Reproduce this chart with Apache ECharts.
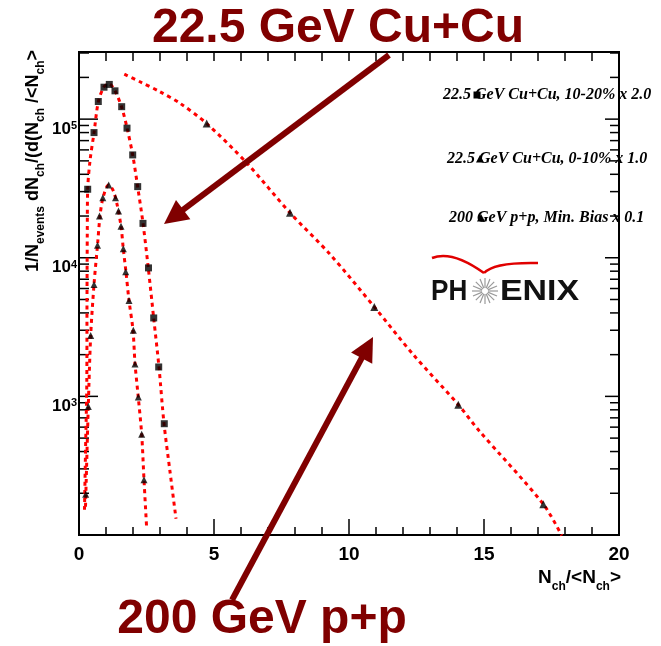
<!DOCTYPE html>
<html><head><meta charset="utf-8">
<script src="https://cdn.jsdelivr.net/npm/echarts@6/dist/echarts.min.js"></script>
<style>html,body{margin:0;padding:0;background:#fff}#c{width:661px;height:646px}</style>
</head><body><div id="c"></div>
<script>
// ---------------- data ----------------
const xTickLabels = ['0', '5', '10', '15', '20'];
const yTickExponents = ['3', '4', '5'];

const xMajorTicks = [0, 5, 10, 15, 20];
const xMinorTicks = [1, 2, 3, 4, 6, 7, 8, 9, 11, 12, 13, 14, 16, 17, 18, 19];
const yMajorTicks = [1000, 10000, 100000];
const yMinorTicks = [200, 300, 400, 500, 600, 700, 800, 900,
  2000, 3000, 4000, 5000, 6000, 7000, 8000, 9000,
  20000, 30000, 40000, 50000, 60000, 70000, 80000, 90000,
  200000, 300000];

// 22.5 GeV Cu+Cu 10-20% x 2.0 (squares)
const cu1020X = [0.322, 0.556, 0.715, 0.926, 1.122, 1.333, 1.581, 1.778, 1.989, 2.174, 2.370, 2.574, 2.767, 2.952, 3.159];
const cu1020Y = [31200, 80000, 134000, 170000, 178000, 160000, 123000, 86100, 55200, 32600, 17700, 8450, 3680, 1630, 635];
const cu1020FitX = [0.204, 0.241, 0.289, 0.296, 0.307, 0.322, 0.407, 0.556, 0.715, 0.926, 1.111, 1.333, 1.581, 1.778, 1.989, 2.174, 2.370, 2.567, 2.767, 2.963, 3.148, 3.370, 3.593];
const cu1020FitY = [152, 400, 1283, 4860, 15600, 31300, 50000, 79600, 133000, 171000, 180000, 160000, 122000, 86500, 55200, 32400, 17800, 8410, 3660, 1620, 638, 287, 131];

// 22.5 GeV Cu+Cu 0-10% x 1.0
const cu010X = [0.248, 0.344, 0.433, 0.556, 0.685, 0.759, 0.881, 1.100, 1.352, 1.463, 1.556, 1.641, 1.730, 1.852, 2.011, 2.074, 2.196, 2.322, 2.407];
const cu010Y = [197, 847, 2750, 6420, 12300, 20000, 27100, 33500, 27100, 21700, 16900, 11600, 7910, 4920, 3000, 1710, 988, 534, 250];
const cu010FitX = [0.241, 0.344, 0.433, 0.556, 0.685, 0.778, 0.889, 1.093, 1.259, 1.407, 1.556, 1.641, 1.741, 1.852, 2.000, 2.074, 2.196, 2.322, 2.407, 2.507];
const cu010FitY = [160, 847, 2750, 6420, 12300, 20000, 27100, 33500, 30800, 24400, 16900, 11600, 7850, 4920, 3000, 1730, 983, 531, 251, 111];

// 200 GeV p+p Min. Bias x 0.1
const ppX = [4.730, 7.815, 10.937, 14.048, 17.196];
const ppY = [92900, 21100, 4420, 871, 167];
const ppFitX = [1.678, 2.259, 3.000, 3.741, 4.730, 6.211, 7.815, 9.296, 10.937, 12.381, 14.048, 14.789, 17.196, 17.878];
const ppFitY = [211000, 186000, 157600, 130100, 92900, 48300, 21100, 10600, 4420, 2000, 871, 574, 167, 99];

const legendLabels = ['22.5 GeV Cu+Cu, 10-20% x 2.0', '22.5 GeV Cu+Cu, 0-10% x 1.0', '200 GeV p+p, Min. Bias x 0.1'];
const bigTitleTop = '22.5 GeV Cu+Cu';
const bigTitleBottom = '200 GeV p+p';

// ---------------- build ----------------
const zip = (xs, ys) => xs.map((x, i) => [x, ys[i]]);
const X_MAX = 20, Y_MIN = 100, Y_MAX = 305000;
const SANS = '"Liberation Sans", Arial, sans-serif';

const tickData = [];
xMajorTicks.forEach(v => tickData.push([v, Y_MIN, 0, 1]));
xMinorTicks.forEach(v => tickData.push([v, Y_MIN, 0, 0]));
yMajorTicks.forEach(v => tickData.push([0, v, 1, 1]));
yMinorTicks.forEach(v => tickData.push([0, v, 1, 0]));

const DARK = '#800000';
function arrow(x0, y0, x1, y1, hl, hw) {
  const dx = x1 - x0, dy = y1 - y0, L = Math.hypot(dx, dy);
  const ux = dx / L, uy = dy / L, px = -uy, py = ux;
  const bx = x1 - ux * hl, by = y1 - uy * hl;
  return [
    { type: 'line', shape: { x1: x0, y1: y0, x2: bx + ux * 2, y2: by + uy * 2 }, style: { stroke: DARK, lineWidth: 6 }, z: 50 },
    { type: 'polygon', shape: { points: [[x1, y1], [bx + px * hw, by + py * hw], [bx - px * hw, by - py * hw]] }, style: { fill: DARK }, z: 50 }
  ];
}

const starRays = [];
for (let i = 0; i < 16; i++) {
  const a = i * Math.PI / 8;
  starRays.push({ type: 'line', z: 5, shape: { x1: 485 + Math.cos(a) * 3, y1: 291 + Math.sin(a) * 3, x2: 485 + Math.cos(a) * 13, y2: 291 + Math.sin(a) * 13 }, style: { stroke: '#9a9a9a', lineWidth: 1.2 } });
}

const legendFont = 'italic bold 16px "Liberation Serif", "DejaVu Serif", serif';
const legendPos = [[443, 95, 477, 'rect'], [447, 159, 480, 'tri'], [449, 218, 481, 'tri']];
const legendGraphics = [];
legendLabels.forEach((t, i) => {
  const [lx, ly, mx, kind] = legendPos[i];
  legendGraphics.push({ type: 'text', x: lx, y: ly, style: { text: t, font: legendFont, fill: '#000', textVerticalAlign: 'middle' }, z: 5 });
  if (kind === 'rect') legendGraphics.push({ type: 'rect', shape: { x: mx - 3.5, y: ly - 3.5, width: 7, height: 7 }, style: { fill: '#000' }, z: 6 });
  else legendGraphics.push({ type: 'polygon', shape: { points: [[mx, ly - 4], [mx + 4, ly + 3.5], [mx - 4, ly + 3.5]] }, style: { fill: '#000' }, z: 6 });
});

const chart = echarts.init(document.getElementById('c'), null, { renderer: 'canvas' });
chart.setOption({
  animation: false,
  backgroundColor: '#fff',
  grid: { left: 79, top: 52, right: 42, bottom: 111, show: true, borderColor: '#000', borderWidth: 2, backgroundColor: 'transparent' },
  xAxis: {
    type: 'value', min: 0, max: X_MAX, interval: 5,
    axisLine: { show: true, lineStyle: { color: '#000', width: 2 } },
    axisTick: { show: false }, splitLine: { show: false },
    axisLabel: {
      color: '#000', fontSize: 19, fontWeight: 'bold', fontFamily: SANS, margin: 10,
      formatter: v => { const i = xMajorTicks.indexOf(v); return i >= 0 ? xTickLabels[i] : ''; }
    }
  },
  yAxis: {
    type: 'log', logBase: 10, min: Y_MIN, max: Y_MAX,
    axisLine: { show: true, lineStyle: { color: '#000', width: 2 } },
    axisTick: { show: false }, splitLine: { show: false }, minorTick: { show: false },
    axisLabel: {
      margin: 2, showMinLabel: false, showMaxLabel: false,
      padding: [20, 0, 0, 0],
      formatter: v => {
        const e = Math.round(Math.log10(v));
        const i = yMajorTicks.indexOf(Math.pow(10, e));
        return i >= 0 ? '{b|10}{p|' + yTickExponents[i] + '}' : '';
      },
      rich: {
        b: { fontSize: 17, fontWeight: 'bold', color: '#000', fontFamily: SANS, verticalAlign: 'bottom', lineHeight: 17 },
        p: { fontSize: 11, fontWeight: 'bold', color: '#000', fontFamily: SANS, verticalAlign: 'top', lineHeight: 11, padding: [0, 0, 9, 0] }
      }
    }
  },
  series: [
    { type: 'custom', coordinateSystem: 'cartesian2d', silent: true, z: 3, clip: false,
      data: tickData,
      renderItem: (params, api) => {
        const kind = api.value(2), major = api.value(3);
        if (kind === 0) {
          const b = api.coord([api.value(0), Y_MIN]);
          const t = api.coord([api.value(0), Y_MAX]);
          const L = major ? 16 : 8;
          return { type: 'group', children: [
            { type: 'line', shape: { x1: b[0], y1: b[1], x2: b[0], y2: b[1] - L }, style: { stroke: '#000', lineWidth: 1.5 } },
            { type: 'line', shape: { x1: t[0], y1: t[1], x2: t[0], y2: t[1] + 9 }, style: { stroke: '#000', lineWidth: 1.5 } }
          ] };
        } else {
          const l = api.coord([0, api.value(1)]);
          const r = api.coord([X_MAX, api.value(1)]);
          return { type: 'group', children: [
            { type: 'line', shape: { x1: l[0], y1: l[1], x2: l[0] + (major ? 19 : 10), y2: l[1] }, style: { stroke: '#000', lineWidth: 1.5 } },
            { type: 'line', shape: { x1: r[0], y1: r[1], x2: r[0] - (major ? 14 : 9), y2: r[1] }, style: { stroke: '#000', lineWidth: 1.5 } }
          ] };
        }
      }
    },
    { name: 'fit1020', type: 'line', data: zip(cu1020FitX, cu1020FitY), showSymbol: false, smooth: 0.3, silent: true, z: 4,
      lineStyle: { color: '#ff0000', width: 3, type: [4, 4] } },
    { name: 'fit010', type: 'line', data: zip(cu010FitX, cu010FitY), showSymbol: false, smooth: 0.3, silent: true, z: 4,
      lineStyle: { color: '#ff0000', width: 3, type: [4, 4] } },
    { name: 'fitpp', type: 'line', data: zip(ppFitX, ppFitY), showSymbol: false, smooth: 0.3, silent: true, z: 4,
      lineStyle: { color: '#ff0000', width: 3, type: [4, 4] } },
    { name: '10-20%', type: 'scatter', data: zip(cu1020X, cu1020Y), symbol: 'rect', symbolSize: 7, itemStyle: { color: '#000' }, z: 5 },
    { name: '0-10%', type: 'scatter', data: zip(cu010X, cu010Y), symbol: 'triangle', symbolSize: 7, itemStyle: { color: '#000' }, z: 5 },
    { name: 'pp', type: 'scatter', data: zip(ppX, ppY), symbol: 'triangle', symbolSize: 8, itemStyle: { color: '#000' }, z: 5 }
  ],
  graphic: [
    { type: 'text', x: 338, y: 29, style: { text: bigTitleTop, font: 'bold 48px ' + SANS, fill: DARK, textAlign: 'center', textVerticalAlign: 'middle' }, z: 60 },
    { type: 'text', x: 262, y: 620, style: { text: bigTitleBottom, font: 'bold 48px ' + SANS, fill: DARK, textAlign: 'center', textVerticalAlign: 'middle' }, z: 60 },
    ...arrow(389, 55, 164, 224, 24, 12),
    ...arrow(232, 600, 373, 337, 24, 12),
    ...legendGraphics,
    { type: 'text', x: 431, y: 292, scaleX: 0.87, style: { text: 'PH', font: 'bold 30px ' + SANS, fill: '#111', textVerticalAlign: 'middle' }, z: 5 },
    { type: 'text', x: 500, y: 292, scaleX: 1.13, style: { text: 'ENIX', font: 'bold 30px ' + SANS, fill: '#111', textVerticalAlign: 'middle' }, z: 5 },
    ...starRays,
    { type: 'bezierCurve', shape: { x1: 432, y1: 258, cpx1: 452, cpy1: 250, x2: 484, y2: 273 }, style: { stroke: '#e00000', lineWidth: 2.5, fill: null }, z: 5 },
    { type: 'bezierCurve', shape: { x1: 484, y1: 273, cpx1: 494, cpy1: 262, x2: 538, y2: 263 }, style: { stroke: '#e00000', lineWidth: 2.5, fill: null }, z: 5 },
    { type: 'text', x: 621, y: 578, style: {
        text: '{n|N}{s|ch}{n|/<N}{s|ch}{n|>}', textAlign: 'right', textVerticalAlign: 'middle',
        rich: {
          n: { fontSize: 19, fontWeight: 'bold', fontFamily: SANS, fill: '#000', verticalAlign: 'top', lineHeight: 19 },
          s: { fontSize: 12, fontWeight: 'bold', fontFamily: SANS, fill: '#000', verticalAlign: 'top', lineHeight: 12, padding: [12, 0, 0, 0] }
        } }, z: 5 },
    { type: 'text', x: 33, y: 50, rotation: Math.PI / 2, style: {
        text: '{n|1/N}{s|events}{n| dN}{s|ch}{n|/(d(N}{s|ch}{n| /<N}{s|ch}{n|>}', textAlign: 'right', textVerticalAlign: 'middle',
        rich: {
          n: { fontSize: 18, fontWeight: 'bold', fontFamily: SANS, fill: '#000', verticalAlign: 'top', lineHeight: 18 },
          s: { fontSize: 12, fontWeight: 'bold', fontFamily: SANS, fill: '#000', verticalAlign: 'top', lineHeight: 12, padding: [11, 0, 0, 0] }
        } }, z: 5 }
  ]
});
</script></body></html>
